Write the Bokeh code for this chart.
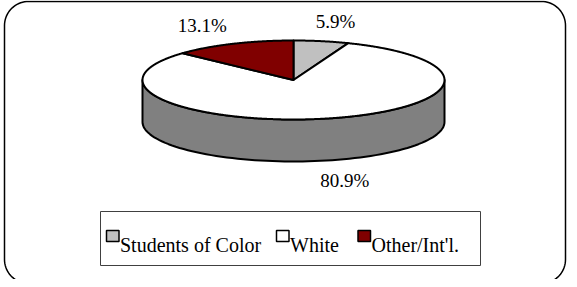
import numpy as np
from bokeh.plotting import figure
from bokeh.models import Range1d
from bokeh.embed import file_html
from bokeh.resources import INLINE
from bokeh.core.properties import value

# ---- data ----
categories = ["Students of Color", "White", "Other/Int'l."]
shares = [5.9, 80.9, 13.1]
top_colors = ["#C0C0C0", "#FFFFFF", "#800000"]
side_colors = ["#9A9A9A", "#808080", "#400000"]
label_texts = ["5.9%", "80.9%", "13.1%"]

# ---- layout constants (page pixel coordinates) ----
PAGE_W, PAGE_H, MARGIN = 577, 287, 8
CX, CY, RX, RY, DEPTH = 301.0, 87.5, 151.0, 39.5, 42.0
LRX, LRY = 228.0, 60.0
FONT = "Liberation Serif"

p = figure(width=PAGE_W - MARGIN, height=PAGE_H - MARGIN,
           x_range=Range1d(MARGIN, PAGE_W), y_range=Range1d(PAGE_H, MARGIN),
           output_backend="svg", toolbar_location=None, min_border=0)
p.axis.visible = False
p.grid.visible = False
p.outline_line_color = None
p.background_fill_color = "white"
p.border_fill_color = "white"

# outer rounded frame
def rounded_rect(x0, y0, x1, y1, r, n=20):
    xs, ys = [], []
    corners = [(x1 - r, y0 + r, -np.pi / 2, 0), (x1 - r, y1 - r, 0, np.pi / 2),
               (x0 + r, y1 - r, np.pi / 2, np.pi), (x0 + r, y0 + r, np.pi, 1.5 * np.pi)]
    for ccx, ccy, a0, a1 in corners:
        t = np.linspace(a0, a1, n)
        xs.extend(ccx + r * np.cos(t))
        ys.extend(ccy + r * np.sin(t))
    return xs, ys

fx, fy = rounded_rect(12, 9, 573, 291, 24)
p.patch(fx, fy, fill_color="white", line_color="black", line_width=1.5)

# pie geometry
fr = np.array(shares) / sum(shares)
ends = np.cumsum(fr) * 2 * np.pi
starts = ends - fr * 2 * np.pi

def ell(t, dy=0.0):
    return CX + RX * np.sin(t), CY - RY * np.cos(t) + dy

side_xs, side_ys, side_cols = [], [], []
for a0, a1, c in zip(starts, ends, side_colors):
    lo, hi = max(a0, np.pi / 2), min(a1, 1.5 * np.pi)
    if hi <= lo:
        continue
    t = np.linspace(lo, hi, 80)
    x1, y1 = ell(t)
    x2, y2 = ell(t[::-1], DEPTH)
    side_xs.append(list(x1) + list(x2))
    side_ys.append(list(y1) + list(y2))
    side_cols.append(c)
p.patches(side_xs, side_ys, fill_color=side_cols, line_color="black",
          line_width=2, line_join="round")

top_xs, top_ys = [], []
for a0, a1 in zip(starts, ends):
    t = np.linspace(a0, a1, max(4, int(200 * (a1 - a0))))
    x, y = ell(t)
    top_xs.append([CX] + list(x))
    top_ys.append([CY] + list(y))
p.patches(top_xs, top_ys, fill_color=top_colors, line_color="black",
          line_width=2, line_join="round")

# percentage labels
mid = (starts + ends) / 2
lx = CX + LRX * np.sin(mid)
ly = CY - LRY * np.cos(mid) + np.where(np.cos(mid) < 0, DEPTH, 0)
p.text(lx, ly, text=label_texts, text_font=value(FONT), text_font_size="19px",
       text_align="center", text_baseline="middle", text_color="black")

# legend
p.quad(left=[108], right=[488], top=[219], bottom=[273], fill_color="white",
       line_color="#404040", line_width=1)
sq_left = [114, 284, 365.5]
sq_x = [v + 6.25 for v in sq_left]
p.rect(x=sq_x, y=[243.5] * 3, width=12.5, height=11, fill_color=top_colors,
       line_color="black", line_width=1.5)
p.text([v + 13.5 for v in sq_left], [252] * 3, text=categories, text_font=value(FONT),
       text_font_size="20px", text_align="left", text_baseline="alphabetic",
       text_color="black")

open("out.html", "w").write(file_html(p, INLINE))
